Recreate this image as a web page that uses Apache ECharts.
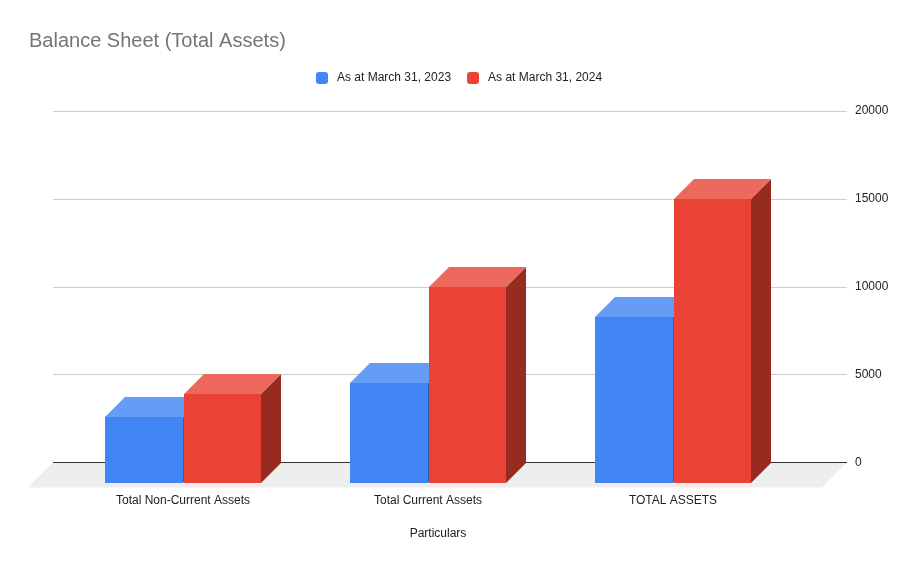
<!DOCTYPE html>
<html>
<head>
<meta charset="utf-8">
<style>html,body{margin:0;padding:0;background:#fff}#c{width:917px;height:568px}</style>
<script src="https://cdn.jsdelivr.net/npm/echarts@6/dist/echarts.min.js"></script>
</head>
<body>
<div id="c"></div>
<script>
const categories = ['Total Non-Current Assets', 'Total Current Assets', 'TOTAL ASSETS'];
const series2023 = [3755, 5690, 9445];
const series2024 = [5060, 11150, 16160];
const yTicks = [0, 5000, 10000, 15000, 20000];
const name2023 = 'As at March 31, 2023';
const name2024 = 'As at March 31, 2024';
const titleText = 'Balance Sheet (Total Assets)';
const xTitle = 'Particulars';

const FONT = '"Liberation Sans", Arial, sans-serif';
const DEPTH = 20;
const FLOOR_DEPTH = 25;

function barRenderer(offsetSign, colors) {
  return function (params, api) {
    const cat = api.value(0);
    const val = api.value(1);
    const band = api.size([1, 0])[0];
    const full = band * 0.3184;
    const center = api.coord([cat, 0]);
    const top = api.coord([cat, val])[1];
    const bottom = center[1];
    const x0 = offsetSign < 0 ? center[0] - full : center[0] + 1;
    const x1 = offsetSign < 0 ? center[0] : center[0] + full;
    const d = DEPTH;
    return {
      type: 'group',
      children: [
        { type: 'polygon', shape: { points: [[x1, top], [x1 + d, top - d], [x1 + d, bottom - d], [x1, bottom]] }, style: { fill: colors.side } },
        { type: 'polygon', shape: { points: [[x0, top], [x0 + d, top - d], [x1 + d, top - d], [x1, top]] }, style: { fill: colors.top } },
        { type: 'rect', shape: { x: x0, y: top, width: x1 - x0, height: bottom - top }, style: { fill: colors.front } }
      ]
    };
  };
}

const chart = echarts.init(document.getElementById('c'), null, { renderer: 'canvas' });
chart.setOption({
  animation: false,
  backgroundColor: '#ffffff',
  title: {
    text: titleText, left: 24, top: 26,
    textStyle: { fontFamily: FONT, fontSize: 20, fontWeight: 'normal', color: '#757575' }
  },
  legend: {
    data: [name2023, name2024],
    left: 311, top: 67,
    icon: 'roundRect', itemWidth: 12, itemHeight: 12, itemGap: 16,
    textStyle: { fontFamily: FONT, fontSize: 12, color: '#222222', padding: [0, 0, 0, 4] }
  },
  grid: [
    { left: 53, width: 794, top: 111, height: 351.5 },
    { left: 60.5, width: 735, top: 131.5, height: 351.5 }
  ],
  xAxis: [
    {
      gridIndex: 0, type: 'value', min: 0, max: 1,
      axisLine: { show: false }, axisTick: { show: false }, axisLabel: { show: false }, splitLine: { show: false }
    },
    {
      gridIndex: 1, type: 'category', data: categories,
      axisLine: { show: false }, axisTick: { show: false },
      axisLabel: { fontFamily: FONT, fontSize: 12, color: '#222222', margin: 12 },
      name: xTitle, nameLocation: 'middle', nameGap: 45,
      nameTextStyle: { fontFamily: FONT, fontSize: 12, color: '#222222', padding: [0, 0, 0, 20] }
    }
  ],
  yAxis: [
    {
      gridIndex: 0, type: 'value', position: 'right', min: yTicks[0], max: yTicks[yTicks.length - 1], interval: yTicks[1] - yTicks[0],
      axisLine: { show: false }, axisTick: { show: false },
      axisLabel: {
        fontFamily: FONT, fontSize: 12, color: '#222222', margin: 8, padding: [4, 0, 0, 0],
        formatter: function (v) { return String(v); }
      },
      splitLine: { show: true, lineStyle: { color: '#cccccc', width: 1 } }
    },
    {
      gridIndex: 1, type: 'value', min: yTicks[0], max: yTicks[yTicks.length - 1], interval: yTicks[1] - yTicks[0],
      axisLine: { show: false }, axisTick: { show: false }, axisLabel: { show: false }, splitLine: { show: false }
    }
  ],
  series: [
    {
      name: 'floor', type: 'custom', xAxisIndex: 0, yAxisIndex: 0, silent: true, z: 1, clip: false,
      data: [[0, 0]],
      renderItem: function (params, api) {
        const cs = params.coordSys;
        const y = api.coord([0, 0])[1];
        const l = cs.x, r = cs.x + cs.width, f = FLOOR_DEPTH;
        return {
          type: 'group',
          children: [
            { type: 'polygon', shape: { points: [[l, y], [r, y], [r - f, y + f], [l - f, y + f]] }, style: { fill: '#eeeeee' } },
            { type: 'line', shape: { x1: l, y1: y, x2: r, y2: y }, style: { stroke: '#333333', lineWidth: 1 } }
          ]
        };
      }
    },
    {
      name: name2023, type: 'custom', xAxisIndex: 1, yAxisIndex: 1, z: 2, clip: false,
      itemStyle: { color: '#4285f4' },
      data: series2023.map(function (v, i) { return [i, v]; }),
      renderItem: barRenderer(-1, { front: '#4285f4', top: '#659cf6', side: '#2e5daa' })
    },
    {
      name: name2024, type: 'custom', xAxisIndex: 1, yAxisIndex: 1, z: 3, clip: false,
      itemStyle: { color: '#ea4335' },
      data: series2024.map(function (v, i) { return [i, v]; }),
      renderItem: barRenderer(1, { front: '#ea4335', top: '#ee695d', side: '#982b20' })
    }
  ]
});
</script>
</body>
</html>
